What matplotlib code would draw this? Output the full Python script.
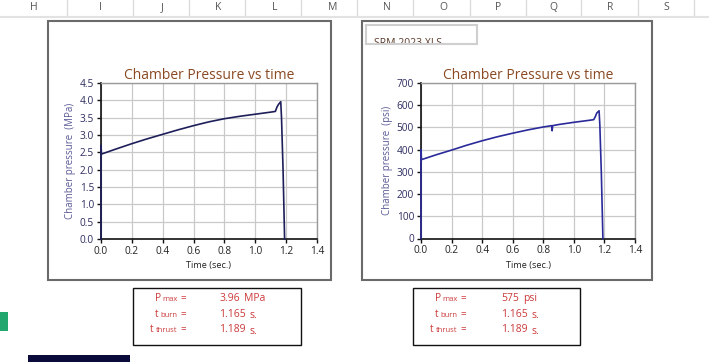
import matplotlib
matplotlib.use("Agg")
import matplotlib.pyplot as plt
from matplotlib.patches import Rectangle

W, H = 709, 362
plt.rcParams['font.family'] = ['Open Sans', 'DejaVu Sans']

# ---------------- data ----------------
col_letters = ["H", "I", "J", "K", "L", "M", "N", "O", "P", "Q", "R", "S"]

t_mpa = [0, 0, 0.003, 0.1, 0.2, 0.3, 0.4, 0.5, 0.6, 0.7, 0.8, 0.9, 1.0, 1.1, 1.13,
         1.14, 1.15, 1.165, 1.17, 1.18, 1.19]
p_mpa = [0, 2.7, 2.45, 2.6, 2.75, 2.89, 3.02, 3.15, 3.27, 3.38, 3.47, 3.54, 3.6, 3.66,
         3.68, 3.8, 3.88, 3.96, 3.5, 2.0, 0]

t_psi = [0, 0, 0.003, 0.1, 0.2, 0.3, 0.4, 0.5, 0.6, 0.7, 0.8, 0.855, 0.858, 0.861,
         0.9, 1.0, 1.1, 1.13, 1.14, 1.15, 1.165, 1.17, 1.18, 1.19]
p_psi = [0, 400, 355, 377, 398, 420, 440, 458, 474, 489, 502, 508, 485, 508,
         513, 523, 532, 535, 548, 565, 575, 510, 290, 0]

mpa_ticks = [0.0, 0.5, 1.0, 1.5, 2.0, 2.5, 3.0, 3.5, 4.0, 4.5]
psi_ticks = [0, 100, 200, 300, 400, 500, 600, 700]
time_ticks = [0.0, 0.2, 0.4, 0.6, 0.8, 1.0, 1.2, 1.4]

box_leads = ["P", "t", "t"]
box_subs = ["max", "burn", "thrust"]
box_left_values = ["3.96", "1.165", "1.189"]
box_left_units = ["MPa", "s.", "s."]
box_right_values = ["575", "1.165", "1.189"]
box_right_units = ["psi", "s.", "s."]

# ---------------- figure ----------------
fig = plt.figure(figsize=(W / 100, H / 100), dpi=100)
fig.patch.set_facecolor("white")
renderer = fig.canvas.get_renderer()


def fx(x):
    return x / W


def fy(y):
    return 1 - y / H


def rect(x0, y0, x1, y1, **kw):
    r = Rectangle((fx(x0), fy(y1)), fx(x1) - fx(x0), fy(y0) - fy(y1),
                  transform=fig.transFigure, **kw)
    fig.add_artist(r)
    return r


def txt(x, y, s, **kw):
    return fig.text(fx(x), fy(y), s, **kw)


def width_px(t):
    bb = t.get_window_extent(renderer=renderer)
    return bb.width


# spreadsheet header
seps = [67, 133, 189, 245, 301, 357, 413, 470, 526, 581, 638, 694]
letter_x = [34, 100, 162, 218, 275, 333, 387, 443, 498, 553, 610, 666]
for sx in seps:
    fig.add_artist(plt.Line2D([fx(sx), fx(sx)], [fy(0), fy(16)],
                              transform=fig.transFigure, color="#dcdcdc", lw=1))
fig.add_artist(plt.Line2D([0, 1], [fy(16.5), fy(16.5)], transform=fig.transFigure,
                          color="#e2e2e2", lw=1.5))
for lx, lt in zip(letter_x, col_letters):
    txt(lx, 8, lt, ha="center", va="center", fontsize=7.5, color="#555555")

# chart frames (behind the axes)
rect(48, 21, 331, 280, facecolor="white", edgecolor="#6a6a6a", lw=1.5, zorder=-2)
rect(362, 21, 652, 280, facecolor="white", edgecolor="#6a6a6a", lw=1.5, zorder=-2)

# SRM box
rect(366, 25, 477, 44, facecolor="white", edgecolor="#cfcfcf", lw=1.5, zorder=-1)
srm = txt(374, 46.5, "SRM 2023.XLS", ha="left", va="baseline", fontsize=7.5,
          color="#5a3a2a")
clip = Rectangle((fx(366), fy(43)), fx(477) - fx(366), fy(25) - fy(43),
                 transform=fig.transFigure, facecolor="none", edgecolor="none")
fig.add_artist(clip)
srm.set_clip_path(clip)


def make_axes(l, r, t, b, tt, pp, yticks, ylim, ylabel, line_color, ytick_fmt):
    ax = fig.add_axes([fx(l), fy(b), fx(r) - fx(l), fy(t) - fy(b)])
    ax.patch.set_facecolor("white")
    ax.plot(tt, pp, color=line_color, lw=1.2, solid_joinstyle="round", zorder=3,
            clip_on=False)
    ax.set_xlim(0, 1.4)
    ax.set_ylim(*ylim)
    ax.set_xticks(time_ticks)
    ax.set_xticklabels([f"{v:.1f}" for v in time_ticks])
    ax.set_yticks(yticks)
    ax.set_yticklabels([ytick_fmt(v) for v in yticks])
    ax.grid(True, color="#c9c9c9", lw=0.9)
    ax.set_axisbelow(True)
    for s in ("top", "right"):
        ax.spines[s].set_color("#9a9a9a")
        ax.spines[s].set_linewidth(1.0)
    for s in ("left", "bottom"):
        ax.spines[s].set_color("#111111")
        ax.spines[s].set_linewidth(1.2)
    ax.tick_params(axis="both", direction="out", length=3, width=1,
                   color="#111111", labelsize=7.3, pad=2)
    ax.tick_params(axis="y", labelcolor="#2d2d60")
    ax.tick_params(axis="x", labelcolor="#222222")
    ax.set_title("Chamber Pressure vs time", fontsize=10, color="#8a4a22", pad=1.5)
    ax.set_xlabel("Time (sec.)", fontsize=6.6, color="#222222", labelpad=3)
    ax.set_ylabel(ylabel, fontsize=7, color="#5a5a96", labelpad=3)
    return ax


make_axes(101, 317, 83, 239, t_mpa, p_mpa, mpa_ticks, (0, 4.5),
          "Chamber pressure  (MPa)", "#1e1e5a", lambda v: f"{v:.1f}")
make_axes(421, 635, 83, 238.5, t_psi, p_psi, psi_ticks, (0, 700),
          "Chamber pressure  (psi)", "#2a2a9a", lambda v: f"{v:d}")

# info boxes
red = "#cc3a3a"
rows_y = [301, 317, 332]


def info_box(x0, x1, eq_right, val_x, values, units):
    rect(x0, 288, x1, 345, facecolor="white", edgecolor="#111111", lw=1.0)
    for i in range(3):
        y = rows_y[i]
        eq = txt(eq_right, y, "=", ha="right", va="baseline", fontsize=7, color=red)
        xr = eq_right - width_px(eq) - 3
        sub = txt(xr, y, box_subs[i], ha="right", va="baseline", fontsize=5.5,
                  color=red)
        xr -= width_px(sub) + (0.5 if i == 0 else 2)
        txt(xr, y, box_leads[i], ha="right", va="baseline", fontsize=7.3, color=red)
        v = txt(val_x, y, values[i], ha="left", va="baseline", fontsize=7.5, color=red)
        ux = val_x + width_px(v) + 4
        txt(ux, y + (1.5 if i > 0 else 0), units[i], ha="left", va="baseline",
            fontsize=7.5, color=red)


info_box(133, 301, 186, 219, box_left_values, box_left_units)
info_box(413, 580, 466, 501, box_right_values, box_right_units)

# misc spreadsheet fragments
rect(0, 312, 8, 331, facecolor="#22a86e", edgecolor="none")
rect(28, 355, 130, 363, facecolor="#0b0b3b", edgecolor="none")

fig.savefig("out.png", dpi=100)
